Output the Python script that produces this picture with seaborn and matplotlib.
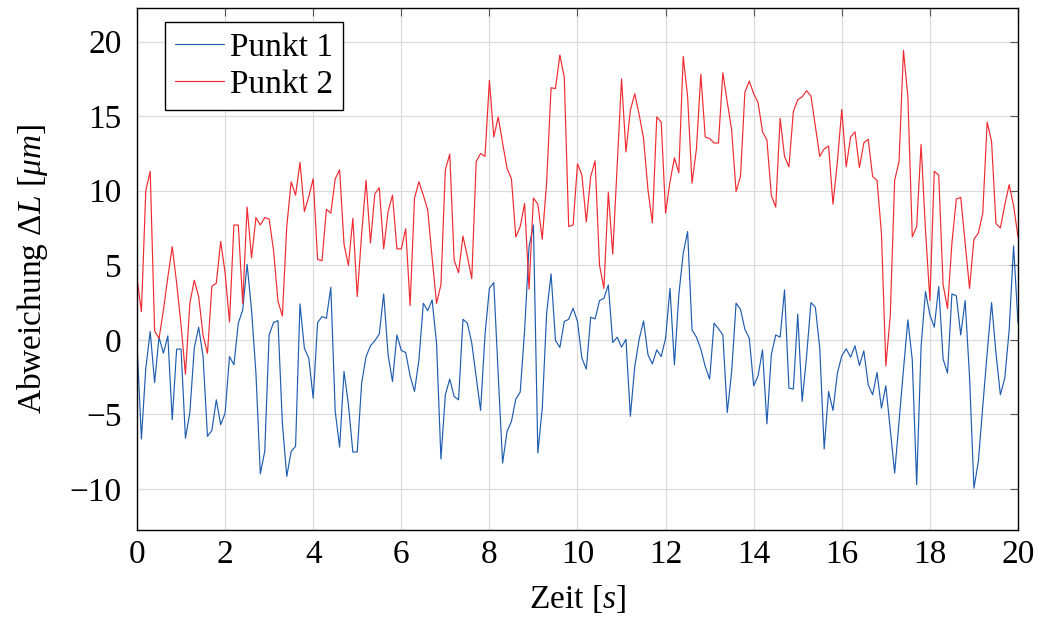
import numpy as np
import pandas as pd
import matplotlib
matplotlib.use("Agg")
import matplotlib.pyplot as plt
import seaborn as sns

# Sampling instants (0.1 s steps over 20 s)
zeit = np.linspace(0, 20, 201)

# Deviation of measuring point 1 [µm]
punkt_1 = [
    -0.22, -6.65, -1.90, 0.56, -2.86, 0.18, -0.89, 0.27, -5.36, -0.62,
    -0.62, -6.59, -4.87, -0.56, 0.85, -1.12, -6.47, -6.07, -4.02, -5.69,
    -4.91, -1.12, -1.67, 1.12, 2.01, 5.07, 2.01, -2.23, -8.98, -7.48,
    0.33, 1.16, 1.29, -5.58, -9.15, -7.48, -7.14, 2.41, -0.56, -1.23,
    -3.91, 1.16, 1.56, 1.45, 3.53, -4.80, -7.19, -2.12, -4.35, -7.52,
    -7.52, -2.90, -1.12, -0.40, -0.05, 0.38, 3.08, -1.00, -2.79, 0.33,
    -0.71, -0.85, -2.41, -3.46, -1.34, 2.45, 1.96, 2.68, -0.22, -7.99,
    -3.68, -2.63, -3.80, -4.02, 1.38, 1.12, -0.22, -2.46, -4.73, 0.33,
    3.46, 3.84, -2.34, -8.26, -6.14, -5.47, -3.97, -3.50, 0.67, 6.25,
    7.70, -7.59, -4.58, 1.79, 4.42, -0.04, -0.51, 1.23, 1.38, 2.12,
    1.23, -1.23, -1.96, 1.52, 1.41, 2.63, 2.79, 3.68, -0.18, 0.18,
    -0.49, 0.04, -5.13, -1.79, 0.04, 1.27, -1.00, -1.61, -0.67, -1.12,
    0.11, 3.46, -1.67, 3.01, 5.80, 7.26, 0.67, 0.18, -0.62, -1.79,
    -2.63, 1.12, 0.75, 0.33, -4.87, -2.12, 2.46, 2.05, 0.71, 0.11,
    -3.08, -2.41, -0.67, -5.63, -1.00, 0.33, 0.18, 3.35, -3.24, -3.30,
    1.72, -4.13, -1.12, 2.50, 2.19, -0.56, -7.32, -3.46, -4.73, -2.23,
    -1.07, -0.60, -1.16, -0.40, -1.72, -0.74, -3.00, -3.68, -2.19, -4.58,
    -3.08, -6.03, -8.93, -5.47, -2.00, 1.34, -1.34, -9.71, -0.45, 3.24,
    1.67, 0.85, 3.57, -1.29, -2.23, 3.08, 2.95, 0.33, 2.63, -2.46,
    -9.94, -8.15, -4.47, -0.89, 2.50, -0.89, -3.68, -2.57, 0.67, 6.30,
    1.12,
]

# Deviation of measuring point 2 [µm]
punkt_2 = [
    4.15, 1.90, 10.00, 11.30, 0.60, 0.10, 2.00, 4.20, 6.25, 3.80,
    1.00, -2.30, 2.45, 4.00, 2.90, 0.30, -0.90, 3.60, 3.80, 6.60,
    4.50, 1.20, 7.70, 7.70, 2.45, 8.90, 5.50, 8.20, 7.70, 8.20,
    8.10, 6.00, 2.60, 1.60, 7.60, 10.60, 9.70, 11.90, 8.60, 9.60,
    10.80, 5.40, 5.30, 8.75, 8.50, 10.80, 11.40, 6.40, 5.00, 8.15,
    2.90, 7.10, 10.70, 6.50, 9.80, 10.20, 6.10, 8.60, 9.70, 6.10,
    6.10, 7.45, 2.30, 9.50, 10.60, 9.70, 8.70, 5.50, 2.45, 3.70,
    11.40, 12.45, 5.35, 4.50, 6.95, 5.60, 4.10, 11.95, 12.50, 12.30,
    17.40, 13.60, 14.95, 13.20, 11.50, 10.80, 6.90, 7.60, 9.15, 3.40,
    9.50, 9.10, 6.75, 10.60, 16.90, 16.85, 19.10, 17.60, 7.60, 7.70,
    11.80, 11.05, 7.90, 10.95, 12.00, 5.00, 3.45, 9.90, 5.75, 11.70,
    17.50, 12.60, 15.40, 16.50, 15.10, 13.50, 10.05, 7.85, 14.95, 14.60,
    8.50, 10.60, 12.20, 11.20, 19.00, 16.30, 10.50, 12.80, 17.80, 13.60,
    13.50, 13.20, 13.20, 17.90, 15.95, 14.05, 9.95, 10.95, 16.60, 17.35,
    16.50, 15.90, 13.95, 13.40, 9.70, 8.90, 14.85, 12.30, 11.60, 15.30,
    16.10, 16.30, 16.70, 16.35, 14.30, 12.30, 12.80, 13.00, 9.10, 11.95,
    15.45, 11.60, 13.60, 13.95, 11.55, 13.20, 13.45, 10.95, 10.70, 7.15,
    -1.75, 1.60, 10.70, 11.95, 19.40, 16.30, 6.90, 7.60, 13.10, 7.35,
    2.65, 11.30, 11.05, 3.70, 2.10, 6.50, 9.45, 9.55, 6.50, 3.45,
    6.75, 7.15, 8.50, 14.60, 13.30, 7.80, 7.50, 9.05, 10.40, 9.00,
    6.90,
]

x_ticks = [0, 2, 4, 6, 8, 10, 12, 14, 16, 18, 20]
y_ticks = [-10, -5, 0, 5, 10, 15, 20]

df = pd.DataFrame({
    "Zeit": np.concatenate([zeit, zeit]),
    "Wert": np.concatenate([punkt_1, punkt_2]),
    "Reihe": ["Punkt 1"] * len(zeit) + ["Punkt 2"] * len(zeit),
})

sns.set_style("white")
plt.rcParams["font.family"] = ["Liberation Serif", "DejaVu Serif"]
plt.rcParams["mathtext.fontset"] = "custom"
plt.rcParams["mathtext.rm"] = "Liberation Serif"
plt.rcParams["mathtext.it"] = "Liberation Serif:italic"
plt.rcParams["axes.unicode_minus"] = True
plt.rcParams["text.color"] = "black"
plt.rcParams["axes.labelcolor"] = "black"

FS = 24

fig = plt.figure(figsize=(10.41, 6.21), dpi=100)
ax = fig.add_axes([0.1316, 0.1465, 0.8463, 0.8406])

sns.lineplot(
    data=df, x="Zeit", y="Wert", hue="Reihe",
    palette={"Punkt 1": "#1f5db0", "Punkt 2": "#f02a30"},
    linewidth=0.85, ax=ax, legend=True,
)

ax.set_xlim(0, 20)
ax.set_ylim(-12.75, 22.25)
ax.set_xticks(x_ticks)
ax.set_yticks(y_ticks)
ax.grid(True, color="#dcdcdc", linewidth=0.9)
ax.set_axisbelow(True)

for s in ax.spines.values():
    s.set_color("black")
    s.set_linewidth(1.0)

ax.tick_params(direction="in", top=True, right=True, length=6, width=0.8,
               color="#555555", labelcolor="black", labelsize=FS)
ax.tick_params(axis="x", pad=7)
ax.tick_params(axis="y", pad=11)

ax.set_xlabel(r"Zeit $[s]$", fontsize=FS, labelpad=9, color="black")
ax.set_ylabel(r"Abweichung $\mathit{\Delta L}$ $[\mu m]$", fontsize=FS,
              labelpad=14, color="black")

leg = ax.legend(loc="upper left", bbox_to_anchor=(0.032, 0.973), fontsize=FS,
                frameon=True, fancybox=False, edgecolor="black",
                handlelength=1.45, handletextpad=0.2, borderpad=0.3,
                labelspacing=0.2, borderaxespad=0)
leg.get_frame().set_linewidth(1.0)
leg.get_frame().set_alpha(1.0)
for txt in leg.get_texts():
    txt.set_color("black")

fig.savefig("out.png", dpi=100)
